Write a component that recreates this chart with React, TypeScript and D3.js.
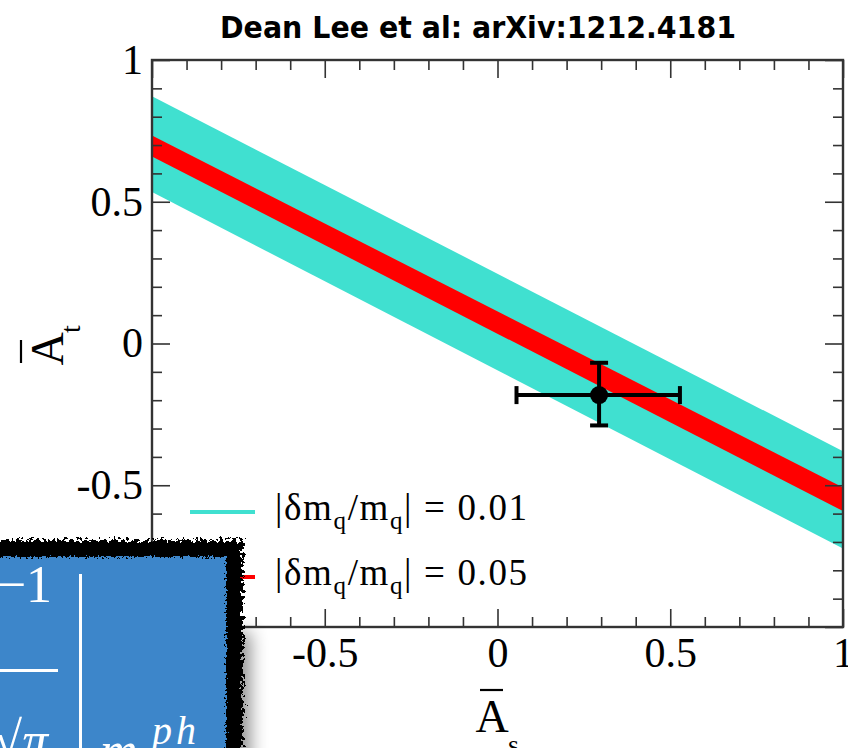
import { useEffect, useRef } from "react";
import * as d3 from "d3";

// band edges at As = -1 and As = 1
const bandEdgesX = [-1, 1];
const wideBandUpper = [0.872, -0.38];
const wideBandLower = [0.534, -0.723];
const narrowBandUpper = [0.734, -0.508];
const narrowBandLower = [0.66, -0.591];

// the lattice point with its error bars
const pointX = [0.294];
const pointY = [-0.182];
const pointXLow = [0.055];
const pointXHigh = [0.528];
const pointYLow = [-0.289];
const pointYHigh = [-0.068];

const majorTicks = [-1, -0.5, 0, 0.5, 1];
const majorTickLabels = ["-1", "-0.5", "0", "0.5", "1"];
const minorTicks = [-0.9, -0.8, -0.7, -0.6, -0.4, -0.3, -0.2, -0.1, 0.1, 0.2, 0.3, 0.4, 0.6, 0.7, 0.8, 0.9];

const legendValues = ["0.01", "0.05"];
const legendColors = ["#40e0d0", "#ff0000"];
const titleText = "Dean Lee et al: arXiv:1212.4181";

const W = 848, H = 748;
const left = 152, right = 843, top = 60, bottom = 627;
const serif = "'Liberation Serif', 'Times New Roman', serif";

export default function App() {
    const ref = useRef<SVGSVGElement>(null);

    useEffect(() => {
        const svg = d3.select(ref.current);
        svg.selectAll("*").remove();

        const x = d3.scaleLinear().domain([-1, 1]).range([left, right]);
        const y = d3.scaleLinear().domain([-1, 1]).range([bottom, top]);

        const defs = svg.append("defs");
        defs.append("clipPath").attr("id", "plotClip")
            .append("rect").attr("x", left).attr("y", top)
            .attr("width", right - left).attr("height", bottom - top);

        const rough = defs.append("filter").attr("id", "rough")
            .attr("x", "-10%").attr("y", "-10%").attr("width", "120%").attr("height", "120%");
        rough.append("feTurbulence").attr("type", "fractalNoise").attr("baseFrequency", 0.3)
            .attr("numOctaves", 3).attr("seed", 4).attr("result", "noise");
        rough.append("feDisplacementMap").attr("in", "SourceGraphic").attr("in2", "noise")
            .attr("scale", 14).attr("xChannelSelector", "R").attr("yChannelSelector", "G");

        const soft = defs.append("filter").attr("id", "soft")
            .attr("x", "-10%").attr("y", "-10%").attr("width", "120%").attr("height", "120%");
        soft.append("feTurbulence").attr("type", "fractalNoise").attr("baseFrequency", 0.5)
            .attr("numOctaves", 2).attr("seed", 9).attr("result", "noise");
        soft.append("feDisplacementMap").attr("in", "SourceGraphic").attr("in2", "noise")
            .attr("scale", 9).attr("xChannelSelector", "R").attr("yChannelSelector", "G");

        defs.append("filter").attr("id", "shadow")
            .attr("x", "-100%").attr("y", "-50%").attr("width", "300%").attr("height", "200%")
            .append("feGaussianBlur").attr("stdDeviation", 9);

        // Title
        svg.append("text")
            .attr("x", 220).attr("y", 38)
            .attr("textLength", 516).attr("lengthAdjust", "spacingAndGlyphs")
            .style("font-family", "'DejaVu Sans', sans-serif")
            .style("font-weight", "bold").style("font-size", "30px")
            .text(titleText);

        // Bands
        const area = d3.area<number>()
            .x((d, i) => x(bandEdgesX[i]));
        const bands = svg.append("g").attr("clip-path", "url(#plotClip)");
        bands.append("path")
            .datum(bandEdgesX)
            .attr("fill", legendColors[0])
            .attr("d", area.y0((d, i) => y(wideBandLower[i])).y1((d, i) => y(wideBandUpper[i])));
        bands.append("path")
            .datum(bandEdgesX)
            .attr("fill", legendColors[1])
            .attr("d", area.y0((d, i) => y(narrowBandLower[i])).y1((d, i) => y(narrowBandUpper[i])));

        // Error bars + point
        const pt = svg.append("g").attr("stroke", "#000").attr("stroke-width", 4);
        pointX.forEach((px, i) => {
            const cy = y(pointY[i]);
            pt.append("line").attr("x1", x(pointXLow[i])).attr("x2", x(pointXHigh[i])).attr("y1", cy).attr("y2", cy);
            pt.append("line").attr("x1", x(pointXLow[i])).attr("x2", x(pointXLow[i])).attr("y1", cy - 9).attr("y2", cy + 9);
            pt.append("line").attr("x1", x(pointXHigh[i])).attr("x2", x(pointXHigh[i])).attr("y1", cy - 9).attr("y2", cy + 9);
            pt.append("line").attr("x1", x(px)).attr("x2", x(px)).attr("y1", y(pointYLow[i])).attr("y2", y(pointYHigh[i]));
            pt.append("line").attr("x1", x(px) - 9).attr("x2", x(px) + 9).attr("y1", y(pointYLow[i])).attr("y2", y(pointYLow[i]));
            pt.append("line").attr("x1", x(px) - 9).attr("x2", x(px) + 9).attr("y1", y(pointYHigh[i])).attr("y2", y(pointYHigh[i]));
            pt.append("circle").attr("cx", x(px)).attr("cy", cy).attr("r", 9).attr("fill", "#000").attr("stroke", "none");
        });

        // Axes: ticks pointing inward on all four sides
        const styleAxis = (g, withLabels) => {
            g.select(".domain").remove();
            g.selectAll("line").attr("stroke", "#333").attr("stroke-width", 1.6);
            if (withLabels) {
                g.selectAll("text")
                    .attr("fill", "#000")
                    .style("font-family", serif)
                    .style("font-size", "42px");
            } else {
                g.selectAll("text").remove();
            }
        };
        const fmt = (d) => majorTickLabels[majorTicks.indexOf(d)];

        svg.append("g").attr("transform", `translate(0,${bottom})`)
            .call(d3.axisBottom(x).tickValues(majorTicks).tickFormat(fmt).tickSizeInner(-18).tickSizeOuter(0).tickPadding(10))
            .call(g => styleAxis(g, true));
        svg.append("g").attr("transform", `translate(0,${bottom})`)
            .call(d3.axisBottom(x).tickValues(minorTicks).tickSizeInner(-10).tickSizeOuter(0))
            .call(g => styleAxis(g, false));
        svg.append("g").attr("transform", `translate(0,${top})`)
            .call(d3.axisTop(x).tickValues(majorTicks).tickSizeInner(-18).tickSizeOuter(0))
            .call(g => styleAxis(g, false));
        svg.append("g").attr("transform", `translate(0,${top})`)
            .call(d3.axisTop(x).tickValues(minorTicks).tickSizeInner(-10).tickSizeOuter(0))
            .call(g => styleAxis(g, false));
        svg.append("g").attr("transform", `translate(${left},0)`)
            .call(d3.axisLeft(y).tickValues(majorTicks).tickFormat(fmt).tickSizeInner(-18).tickSizeOuter(0).tickPadding(9))
            .call(g => styleAxis(g, true));
        svg.append("g").attr("transform", `translate(${left},0)`)
            .call(d3.axisLeft(y).tickValues(minorTicks).tickSizeInner(-10).tickSizeOuter(0))
            .call(g => styleAxis(g, false));
        svg.append("g").attr("transform", `translate(${right},0)`)
            .call(d3.axisRight(y).tickValues(majorTicks).tickSizeInner(-18).tickSizeOuter(0))
            .call(g => styleAxis(g, false));
        svg.append("g").attr("transform", `translate(${right},0)`)
            .call(d3.axisRight(y).tickValues(minorTicks).tickSizeInner(-10).tickSizeOuter(0))
            .call(g => styleAxis(g, false));

        // Frame
        svg.append("rect")
            .attr("x", left).attr("y", top)
            .attr("width", right - left).attr("height", bottom - top)
            .attr("fill", "none").attr("stroke", "#333").attr("stroke-width", 2.4);

        // Axis titles
        const xl = svg.append("g").attr("transform", `translate(492,732)`);
        xl.append("line").attr("x1", -12).attr("x2", 11).attr("y1", -42).attr("y2", -42)
            .attr("stroke", "#000").attr("stroke-width", 2.2);
        xl.append("text").attr("text-anchor", "middle")
            .style("font-family", serif).style("font-size", "46px").text("A");
        xl.append("text").attr("x", 16).attr("y", 22)
            .style("font-family", serif).style("font-size", "28px").text("s");

        const yl = svg.append("g").attr("transform", `translate(63,349) rotate(-90)`);
        yl.append("line").attr("x1", -14).attr("x2", 9).attr("y1", -42).attr("y2", -42)
            .attr("stroke", "#000").attr("stroke-width", 2.2);
        yl.append("text").attr("text-anchor", "middle")
            .style("font-family", serif).style("font-size", "46px").text("A");
        yl.append("text").attr("x", 16).attr("y", 17)
            .style("font-family", serif).style("font-size", "28px").text("t");

        // Legend
        const legend = svg.append("g");
        legendValues.forEach((v, i) => {
            const ly = 512 + i * 65;
            legend.append("line").attr("x1", 190).attr("x2", 255).attr("y1", ly).attr("y2", ly)
                .attr("stroke", legendColors[i]).attr("stroke-width", 4);
            const t = legend.append("text").attr("x", 275).attr("y", ly + 8)
                .attr("textLength", 252).attr("lengthAdjust", "spacing")
                .style("font-family", serif).style("font-size", "37px");
            t.append("tspan").text("|δm");
            t.append("tspan").attr("dy", 9).style("font-size", "25px").text("q");
            t.append("tspan").attr("dy", -9).text("/m");
            t.append("tspan").attr("dy", 9).style("font-size", "25px").text("q");
            t.append("tspan").attr("dy", -9).text(`| = ${v}`);
        });

        // Pasted slide fragment in the lower left corner
        const slide = svg.append("g");
        slide.append("rect").attr("x", 224).attr("y", 632).attr("width", 26).attr("height", 150)
            .attr("fill", "#000").attr("opacity", 0.45).attr("filter", "url(#shadow)");
        slide.append("rect").attr("x", -30).attr("y", 540).attr("width", 273).attr("height", 240)
            .attr("fill", "#000").attr("filter", "url(#rough)");
        slide.append("rect").attr("x", -30).attr("y", 557).attr("width", 256).attr("height", 220)
            .attr("fill", "#3d86ca").attr("filter", "url(#soft)");
        const math = slide.append("g").attr("fill", "#fff").style("font-family", serif);
        math.append("text").attr("x", 52).attr("y", 602).attr("text-anchor", "end")
            .style("font-size", "52px").text("−1");
        math.append("rect").attr("x", -5).attr("y", 669).attr("width", 63).attr("height", 3);
        math.append("rect").attr("x", 79).attr("y", 574).attr("width", 3).attr("height", 190);
        math.append("text").attr("x", 48).attr("y", 758).attr("text-anchor", "end")
            .style("font-size", "52px").style("font-style", "italic").text("√π");
        math.append("text").attr("x", 100).attr("y", 768)
            .style("font-size", "52px").style("font-style", "italic").text("m");
        math.append("text").attr("x", 152).attr("y", 744)
            .style("font-size", "40px").style("font-style", "italic").attr("letter-spacing", 4).text("ph");
    }, []);

    return (
        <svg ref={ref} width={W} height={H}
            style={{ position: "absolute", left: 0, top: 0, display: "block", background: "#fff" }} />
    );
}
